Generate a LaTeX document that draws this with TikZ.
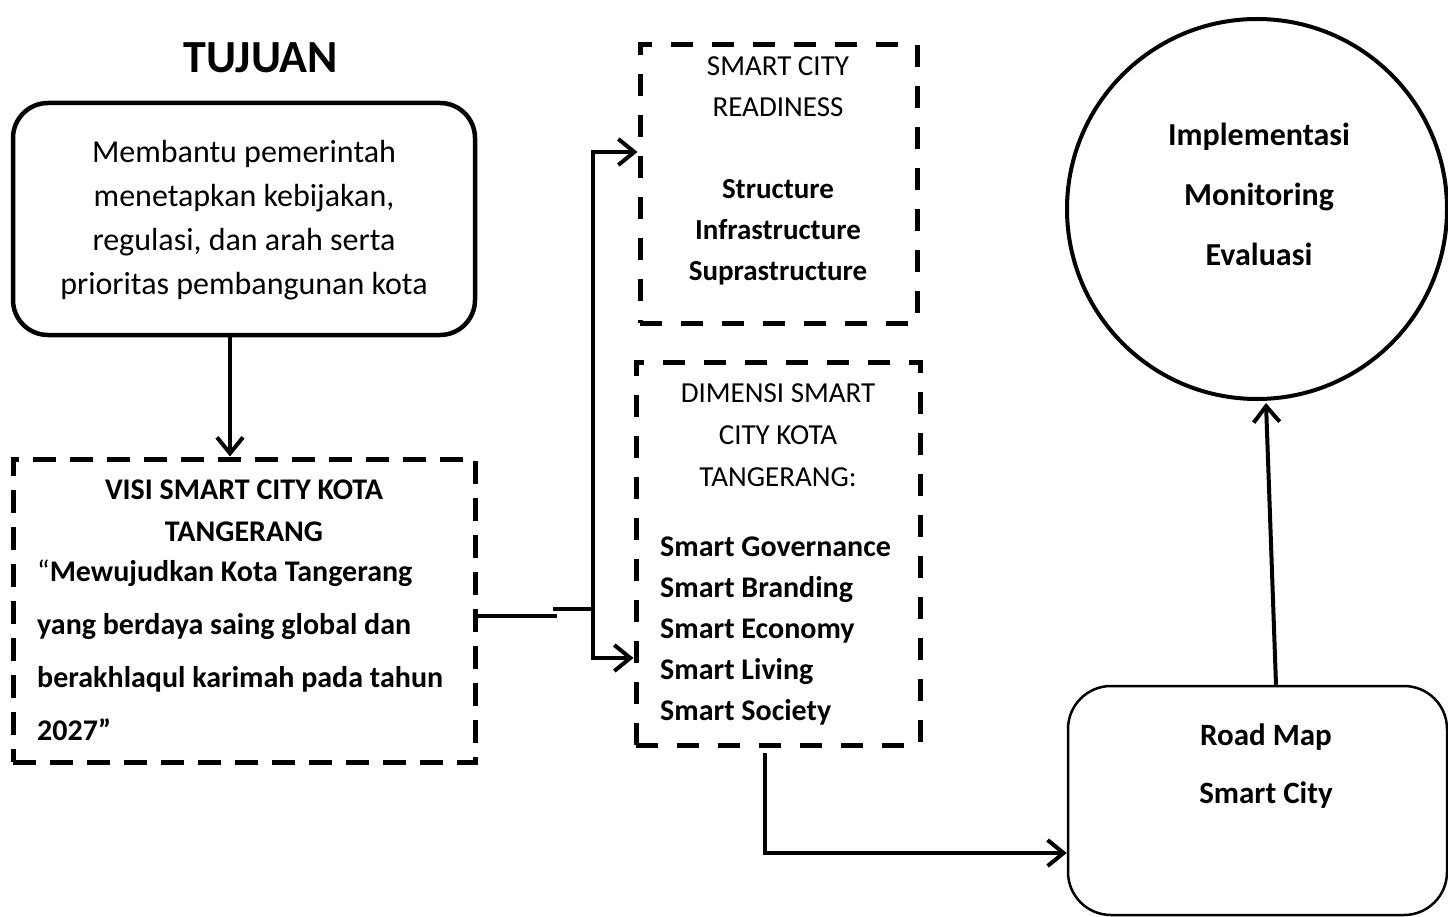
\documentclass[tikz,border=0pt]{standalone}
\usepackage{fontspec}
\setmainfont{Carlito}
\usetikzlibrary{arrows.meta}
\begin{document}
\begin{tikzpicture}[x=1pt,y=-1pt,
  roundbox/.style={draw, line width=4.5pt, rounded corners=35pt, inner sep=0pt},
  thinbox/.style={draw, line width=2.5pt, rounded corners=43pt, inner sep=0pt},
  dashbox/.style={draw, line width=5pt, dash pattern=on 23pt off 14pt, inner sep=0pt},
  widedash/.style={dashbox, dash pattern=on 22pt off 19pt},
  ringnode/.style={draw, circle, line width=4pt, inner sep=0pt},
  txt/.style={inner sep=0pt, align=center},
  conn/.style={line width=4pt, -{Straight Barb[length=16pt,width=26pt]}},
  plainline/.style={line width=4pt},
]
\useasboundingbox (0,0) rectangle (1448,917);
\fill[white] (0,0) rectangle (1448,917);

% boxes
\node[roundbox, minimum width=462pt, minimum height=232pt] (goal) at (244,219) {};
\node[dashbox, minimum width=462pt, minimum height=303pt] (visi) at (244,610.5) {};
\node[widedash, minimum width=277pt, minimum height=278pt] (ready) at (778.5,184) {};
\node[widedash, minimum width=284pt, minimum height=383pt] (dim) at (778,553.5) {};
\node[thinbox, minimum width=379pt, minimum height=229pt] (road) at (1257.5,800.5) {};
\node[ringnode, minimum size=380pt] (ring) at (1257,209) {};

% texts
\node[txt, font=\fontsize{46}{55}\selectfont\bfseries] (title) at (261,58) {TUJUAN};
\node[txt, font=\fontsize{32}{44}\selectfont] (goaltext) at (244,220)
  {Membantu pemerintah\\menetapkan kebijakan,\\regulasi, dan arah serta\\prioritas pembangunan kota};
\node[txt, font=\fontsize{30}{42}\selectfont\bfseries] (visihead) at (244,511)
  {VISI SMART CITY KOTA\\TANGERANG};
\node[txt, align=left, anchor=west, font=\fontsize{30}{53}\selectfont\bfseries] (visibody) at (37,650)
  {{\mdseries “}Mewujudkan Kota Tangerang\\yang berdaya saing global dan\\berakhlaqul karimah pada tahun\\2027”};
\node[txt, font=\fontsize{29}{41}\selectfont] (readytext) at (778,171)
  {SMART CITY\\READINESS\\[41pt]\textbf{Structure}\\\textbf{Infrastructure}\\\textbf{Suprastructure}};
\node[txt, font=\fontsize{29}{42}\selectfont] (dimhead) at (778,435)
  {DIMENSI SMART\\CITY KOTA\\TANGERANG:};
\node[txt, align=left, anchor=west, font=\fontsize{30}{41}\selectfont\bfseries] (dimbody) at (660,631.5)
  {Smart Governance\\Smart Branding\\Smart Economy\\Smart Living\\Smart Society};
\node[txt, font=\fontsize{32}{60}\selectfont\bfseries] (ringtext) at (1259,194)
  {Implementasi\\Monitoring\\Evaluasi};
\node[txt, font=\fontsize{31}{58}\selectfont\bfseries] (roadtext) at (1266,766)
  {Road Map\\Smart City};

% helper coordinates
\coordinate (gx) at (230,0);
\coordinate (j1) at (557,616);
\coordinate (j2) at (553,609);
\coordinate (jx) at (593,609);
\coordinate (ry) at (0,152);
\coordinate (dy) at (0,658);
\coordinate (dmx) at (765,753);
\coordinate (rmy) at (0,853);
\coordinate (up) at (1276,0);
\coordinate (ringin) at (1266,403);

% connectors
\draw[conn] (gx |- goal.south) -- (gx |- visi.north);
\draw[plainline] (visi.east |- j1) -- (j1);
\draw[plainline] (j2) -- (jx);
\draw[conn] (jx) |- (ready.west |- ry);
\draw[conn] (jx) |- (dim.west |- dy);
\draw[conn] (dmx) |- (road.west |- rmy);
\draw[conn] (up |- road.north) -- (ringin);
\end{tikzpicture}
\end{document}
